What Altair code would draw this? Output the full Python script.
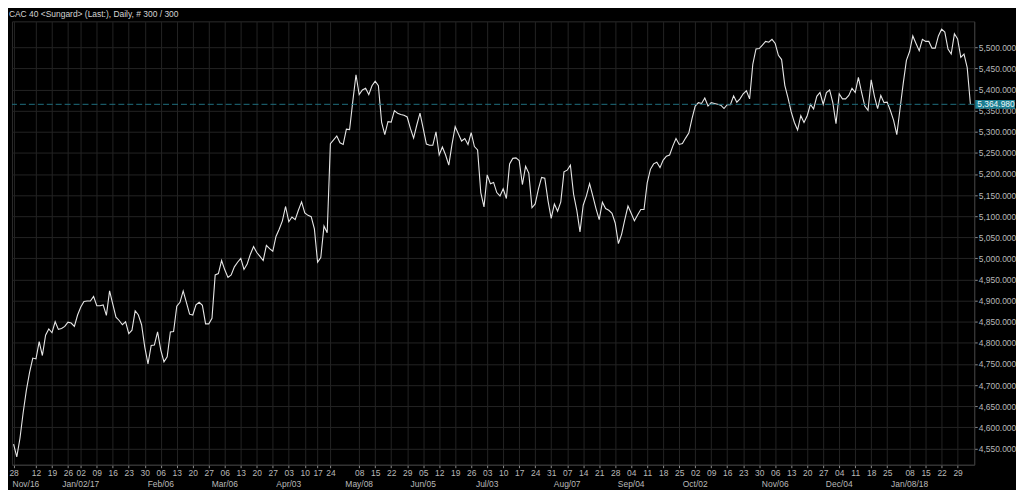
import altair as alt
import pandas as pd

TITLE = "CAC 40 <Sungard> (Last:), Daily, # 300 / 300"
FIRST_DAY = "2016-12-01"
LAST_DAY = "2018-02-02"
HOLIDAYS = ["2016-12-26", "2017-04-14", "2017-04-17", "2017-05-01",
            "2017-12-25", "2017-12-26", "2018-01-01"]

# daily closes (300 trading days)
CLOSE = [
    4560, 4530, 4574, 4635, 4688, 4730, 4764, 4762, 4803, 4770,
    4818, 4833, 4824, 4850, 4832, 4834, 4839, 4849, 4847, 4839,
    4866, 4885, 4898, 4899, 4899, 4910, 4888, 4888, 4890, 4865,
    4923, 4892, 4861, 4853, 4843, 4850, 4822, 4830, 4876, 4866,
    4843, 4790, 4750, 4794, 4795, 4826, 4783, 4755, 4767, 4826,
    4827, 4887, 4896, 4923, 4896, 4868, 4866, 4890, 4896, 4889,
    4845, 4845, 4858, 4961, 4964, 4995, 4973, 4955, 4961, 4980,
    4991, 5000, 4974, 4987, 5010, 5028, 5014, 5005, 4995, 5031,
    5023, 5017, 5052, 5069, 5089, 5123, 5087, 5098, 5092, 5114,
    5134, 5108, 5102, 5099, 5070, 4991, 5002, 5077, 5061, 5272,
    5281, 5290, 5274, 5270, 5306, 5305, 5372, 5435, 5388, 5399,
    5403, 5388, 5409, 5420, 5409, 5323, 5293, 5324, 5323, 5350,
    5344, 5341, 5339, 5335, 5308, 5285, 5316, 5344, 5308, 5271,
    5268, 5268, 5300, 5245, 5264, 5245, 5221, 5270, 5312, 5295,
    5278, 5284, 5270, 5298, 5265, 5257, 5156, 5122, 5198, 5177,
    5180, 5156, 5148, 5165, 5142, 5224, 5237, 5238, 5232, 5175,
    5218, 5202, 5120, 5129, 5164, 5192, 5190, 5137, 5095, 5129,
    5112, 5134, 5205, 5209, 5221, 5152, 5114, 5063, 5126, 5148,
    5177, 5148, 5118, 5092, 5133, 5118, 5114, 5107, 5084, 5035,
    5057, 5092, 5124, 5107, 5089, 5103, 5116, 5116, 5179, 5211,
    5224, 5228, 5215, 5233, 5242, 5245, 5266, 5284, 5270, 5272,
    5285, 5297, 5331, 5361, 5369, 5367, 5380, 5361, 5369, 5367,
    5365, 5363, 5355, 5364, 5364, 5385, 5370, 5378, 5390, 5397,
    5378, 5460, 5496, 5497, 5505, 5514, 5512, 5519, 5509, 5481,
    5471, 5410, 5380, 5347, 5322, 5304, 5338, 5322, 5338, 5365,
    5354, 5384, 5393, 5365, 5393, 5399, 5369, 5319, 5390, 5378,
    5378, 5386, 5403, 5393, 5429, 5393, 5361, 5351, 5423, 5384,
    5355, 5386, 5369, 5370, 5350, 5327, 5293, 5354, 5414, 5469,
    5490, 5527, 5509, 5492, 5519, 5514, 5514, 5498, 5498, 5527,
    5543, 5536, 5496, 5484, 5532, 5520, 5476, 5484, 5452, 5364.98,
]
LAST_VALUE = 5364.98

HIDDEN_WEEKS = ["2016-12-05", "2017-05-01", "2018-01-01"]
MONTH_LABELS = ["Nov/16", "Jan/02/17", "Feb/06", "Mar/06", "Apr/03", "May/08",
                "Jun/05", "Jul/03", "Aug/07", "Sep/04", "Oct/02", "Nov/06",
                "Dec/04", "Jan/08/18"]
MONTH_WEEKS = ["2016-11-28", "2017-01-02", "2017-02-06", "2017-03-06",
               "2017-04-03", "2017-05-08", "2017-06-05", "2017-07-03",
               "2017-08-07", "2017-09-04", "2017-10-02", "2017-11-06",
               "2017-12-04", "2018-01-08"]
Y_TICKS = [4550, 4600, 4650, 4700, 4750, 4800, 4850, 4900, 4950, 5000,
           5050, 5100, 5150, 5200, 5250, 5300, 5350, 5400, 5450, 5500]

# trading calendar -> index positions
days = pd.bdate_range(FIRST_DAY, LAST_DAY)
days = days[~days.isin(pd.to_datetime(HOLIDAYS))]
n = len(days)
df = pd.DataFrame({"i": list(range(n)), "close": CLOSE})

monday = days - pd.to_timedelta(days.weekday, unit="D")
weeks = (pd.DataFrame({"i": list(range(n)), "monday": monday})
         .groupby("monday", as_index=False)["i"].min())
weeks = weeks[~weeks["monday"].isin(pd.to_datetime(HIDDEN_WEEKS))]
tick_idx = [int(v) for v in weeks["i"]]
tick_lab = list(weeks["monday"].dt.strftime("%d"))
lab_arr = [""] * n
for k, lab in zip(tick_idx, tick_lab):
    lab_arr[k] = lab
label_expr = "[" + ",".join("'%s'" % s for s in lab_arr) + "][datum.value]"

wk = weeks.set_index("monday")["i"]
month_idx = [int(wk.loc[pd.Timestamp(m)]) for m in MONTH_WEEKS]
month_df = pd.DataFrame({"i": month_idx, "label": MONTH_LABELS})
ann_df = pd.DataFrame({"v": [LAST_VALUE], "lab": [f"{LAST_VALUE:,.3f}"]})

W, H = 968, 446
FONT = "Liberation Sans"
GRID = "#232323"
LABEL = "#b8b8b8"
TEAL = "#1f6f7e"
BOX = "#1b7d90"

xscale = alt.Scale(domain=[-0.5, 300.2], nice=False, zero=False)
yscale = alt.Scale(domain=[4511.4, 5561.5], nice=False, zero=False)

x_axis = alt.Axis(values=tick_idx, labelExpr=label_expr, title=None, grid=True,
                  gridColor=GRID, gridWidth=1, tickColor="#8a8a8a", tickSize=3,
                  domainColor="#3a3a3a", labelColor=LABEL, labelFont=FONT,
                  labelFontSize=8.5, labelPadding=1, labelFlush=False,
                  labelOverlap=False, labelBound=False)
y_axis = alt.Axis(orient="right", values=Y_TICKS, format=",.3f", title=None,
                  grid=True, gridColor=GRID, gridWidth=1, tickColor="#8a8a8a",
                  tickSize=3, domainColor="#3a3a3a", labelColor=LABEL,
                  labelFont=FONT, labelFontSize=8.5, labelPadding=1,
                  labelOverlap=False)

line = alt.Chart(df).mark_line(color="#e6e6e6", strokeWidth=1.1).encode(
    x=alt.X("i:Q", scale=xscale, axis=x_axis),
    y=alt.Y("close:Q", scale=yscale, axis=y_axis),
)

rule = alt.Chart(ann_df).mark_rule(color=TEAL, strokeDash=[6, 3], strokeWidth=1).encode(
    y=alt.Y("v:Q", scale=yscale, axis=y_axis),
)

box = alt.Chart(ann_df).transform_calculate(
    lo="datum.v - 10.5", hi="datum.v + 10.5", x1="300.5", x2="312.9"
).mark_rect(color=BOX).encode(
    x=alt.X("x1:Q", scale=xscale, axis=x_axis), x2="x2:Q",
    y=alt.Y("hi:Q", scale=yscale, axis=y_axis), y2="lo:Q",
)

box_text = alt.Chart(ann_df).transform_calculate(x1="300.5").mark_text(
    align="left", baseline="middle", dx=2, color="#e8f6f8", font=FONT, fontSize=8.5
).encode(
    x=alt.X("x1:Q", scale=xscale, axis=x_axis),
    y=alt.Y("v:Q", scale=yscale, axis=y_axis),
    text="lab:N",
)

month_first = alt.Chart(month_df.iloc[:1]).mark_text(
    align="left", baseline="middle", dx=-1, color=LABEL, font=FONT, fontSize=8.5
).encode(x=alt.X("i:Q", scale=xscale, axis=x_axis), y=alt.value(H + 19), text="label:N")

month_rest = alt.Chart(month_df.iloc[1:]).mark_text(
    align="center", baseline="middle", color=LABEL, font=FONT, fontSize=8.5
).encode(x=alt.X("i:Q", scale=xscale, axis=x_axis), y=alt.value(H + 19), text="label:N")

chart = alt.layer(line, rule, box, box_text, month_first, month_rest).properties(
    width=W, height=H, padding=0,
    title=alt.Title(TITLE, anchor="start", fontSize=8.5, color="#d4d4d4",
                    font=FONT, fontWeight="normal", offset=3),
).configure(background="#000000").configure_view(stroke="#2c2c2c")

chart.save("out.html", embed_options={"renderer": "svg", "actions": False})
